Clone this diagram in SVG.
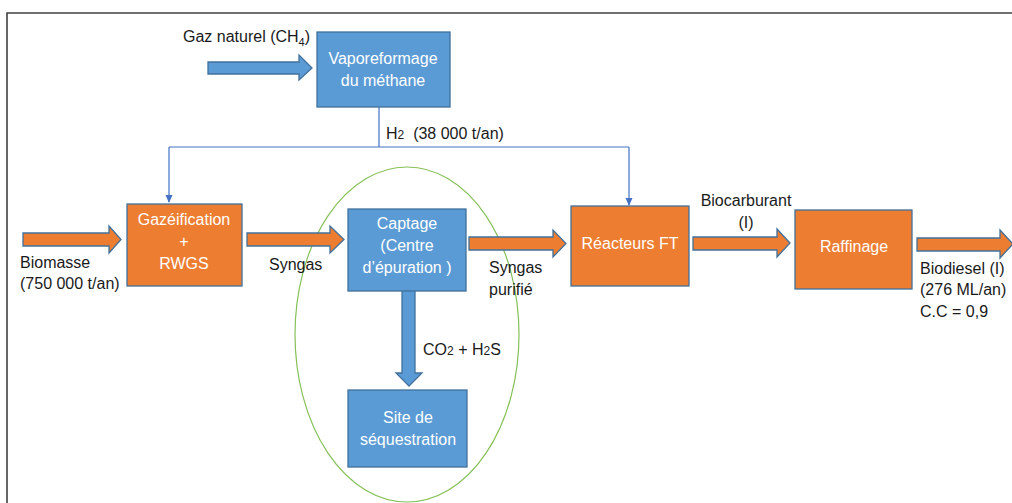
<svg xmlns="http://www.w3.org/2000/svg" width="1012" height="503" viewBox="0 0 1012 503">
<defs>
<style>
.bb{fill:#5b9bd5;stroke:#41719c;stroke-width:1.3}
.ob{fill:#ed7d31;stroke:#41719c;stroke-width:1.3}
.oa{fill:#ed7d31;stroke:#41719c;stroke-width:1.3}
.ba{fill:#5b9bd5;stroke:#41719c;stroke-width:1.3}
.wt{font-family:"Liberation Sans",Arial,sans-serif;font-size:16px;fill:#ffffff;text-anchor:middle}
.lb{font-family:"Liberation Sans",Arial,sans-serif;font-size:16px;fill:#1a1a1a}
.ln{fill:none;stroke:#4472c4;stroke-width:1.2}
</style>
<marker id="ah" markerWidth="8" markerHeight="8" refX="7" refY="4" orient="auto" markerUnits="userSpaceOnUse">
<path d="M0,0.5 L8,4 L0,7.5 z" fill="#4472c4"/>
</marker>
</defs>
<rect x="0" y="0" width="1012" height="503" fill="#ffffff"/>
<path d="M7,503 L7,13 L1012,13" fill="none" stroke="#404040" stroke-width="1.6"/>

<ellipse id="zone" cx="407" cy="334.5" rx="112" ry="167.5" fill="none" stroke="#86c058" stroke-width="1.2"/>

<g id="connectors">
<path class="ln" d="M379,107 L379,147"/>
<path class="ln" d="M169,147 L629,147"/>
<path class="ln" d="M169,147 L169,202" marker-end="url(#ah)"/>
<path class="ln" d="M629,147 L629,205" marker-end="url(#ah)"/>
<polygon class="ba" points="208,62 299,62 299,55 312,68 299,80 299,74 208,74"/>
<polygon class="oa" points="23,233 109,233 109,226 121,239.5 109,253 109,246 23,246"/>
<polygon class="oa" points="247,233 330,233 330,226 344,239.5 330,253 330,246 247,246"/>
<polygon class="oa" points="469,237 553,237 553,230 566,243.5 553,257 553,250 469,250"/>
<polygon class="oa" points="693,237 777,237 777,229 790,243 777,257 777,250 693,250"/>
<polygon class="oa" points="917,238 1000,238 1000,230 1013,244 1000,258 1000,251 917,251"/>
<polygon class="ba" points="402,288 415,288 415,373 422,373 409,386 396,373 402,373"/>
</g>

<g id="labels">
<text class="lb" x="183" y="42">Gaz naturel (CH<tspan font-size="11" dy="4">4</tspan><tspan dy="-4">)</tspan></text>
<text class="lb" x="386" y="139" xml:space="preserve">H<tspan font-size="12">2</tspan>  (38 000 t/an)</text>
<text class="lb" x="20" y="268">Biomasse</text>
<text class="lb" x="20" y="289">(750 000 t/an)</text>
<text class="lb" x="269" y="270">Syngas</text>
<text class="lb" x="489" y="273">Syngas</text>
<text class="lb" x="489" y="295">purifié</text>
<text class="lb" x="746" y="206" text-anchor="middle">Biocarburant</text>
<text class="lb" x="746" y="228" text-anchor="middle">(I)</text>
<text class="lb" x="920" y="274">Biodiesel (I)</text>
<text class="lb" x="920" y="295">(276 ML/an)</text>
<text class="lb" x="920" y="317">C.C = 0,9</text>
<text class="lb" x="423" y="355">CO<tspan font-size="12">2</tspan> + H<tspan font-size="12">2</tspan>S</text>
</g>

<g id="vaporeformage">
<rect class="bb" x="317" y="32" width="133" height="75"/>
<text class="wt" x="383" y="64">Vaporeformage</text>
<text class="wt" x="383" y="86">du méthane</text>
</g>
<g id="gazeification">
<rect class="ob" x="127" y="204" width="115" height="82"/>
<text class="wt" x="184" y="225">Gazéification</text>
<text class="wt" x="184" y="247">+</text>
<text class="wt" x="184" y="269">RWGS</text>
</g>
<g id="captage">
<rect class="bb" x="348" y="209" width="118" height="82"/>
<text class="wt" x="407" y="229">Captage</text>
<text class="wt" x="407" y="251">(Centre</text>
<text class="wt" x="407" y="273">d’épuration )</text>
</g>
<g id="sequestration">
<rect class="bb" x="348" y="390" width="119" height="77"/>
<text class="wt" x="408" y="423">Site de</text>
<text class="wt" x="408" y="445">séquestration</text>
</g>
<g id="reacteurs">
<rect class="ob" x="571" y="206" width="118" height="80"/>
<text class="wt" x="630" y="249">Réacteurs FT</text>
</g>
<g id="raffinage">
<rect class="ob" x="795" y="210" width="117" height="79"/>
<text class="wt" x="854" y="252">Raffinage</text>
</g>
</svg>
